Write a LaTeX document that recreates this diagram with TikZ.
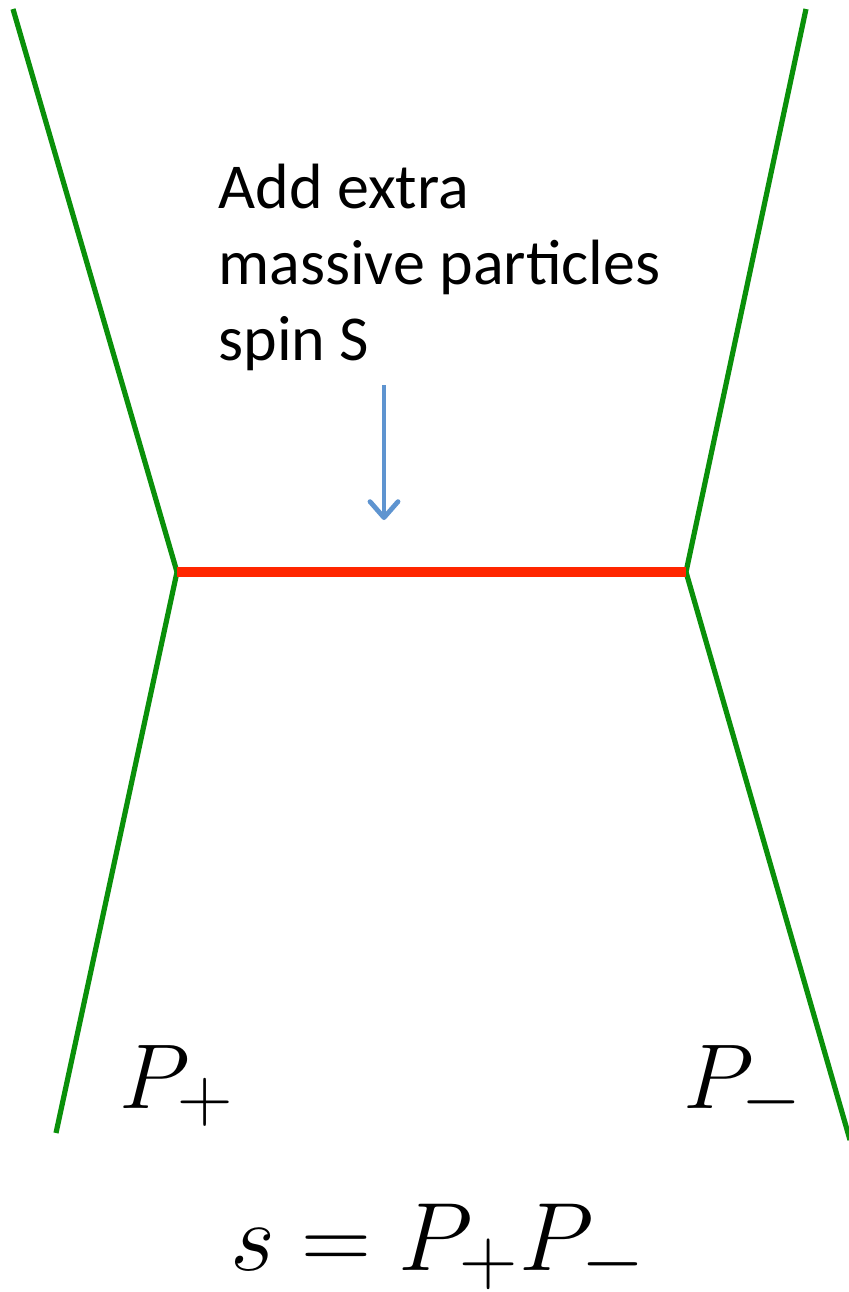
\documentclass[tikz,border=0pt]{standalone}
\usepackage{fontspec}
\setmainfont{Carlito}
\usepackage{tikz}
\usetikzlibrary{arrows.meta}
\definecolor{leg}{HTML}{0A900A}
\definecolor{prop}{HTML}{FF2600}
\definecolor{pointer}{HTML}{5E94D0}

\begin{document}
\begin{tikzpicture}[
  x=0.5pt, y=-0.5pt,
  particle/.style={draw=leg, line width=2.6pt},
  massive/.style={draw=prop, line width=4.6pt},
  hint/.style={-{Straight Barb[length=8pt, width=14pt, round]}, draw=pointer, line width=2.4pt},
  note/.style={inner sep=0pt, align=left, font=\fontsize{32}{38}\selectfont},
  mom/.style={inner sep=0pt, font=\Huge, scale=1.85}
]
\useasboundingbox (0,0) rectangle (848,1292);
% external legs and vertices
\coordinate (inl) at (13,9);
\coordinate (inr) at (806,9);
\coordinate (vl) at (177,572);
\coordinate (vr) at (686,572);
\coordinate (outl) at (56,1133);
\coordinate (outr) at (850,1140);
\draw[particle] (inl) -- (vl) -- (outl);
\draw[particle] (inr) -- (vr) -- (outr);
\draw[massive] (vl) -- (vr);
% annotation
\node[note, anchor=base west] (add) at (218,360) {Add extra\\massive particles\\spin S};
\coordinate (tail) at (384,385);
\coordinate (tip) at (384,520);
\draw[hint] (tail) -- (tip);
% momenta
\node[mom, anchor=base west] (pp) at (119,1108) {$P_+$};
\node[mom, anchor=base west] (pm) at (683,1108) {$P_-$};
\node[mom, anchor=base, scale=1.95/1.85] (s) at (438,1270) {$s = P_+P_-$};
\end{tikzpicture}
\end{document}
